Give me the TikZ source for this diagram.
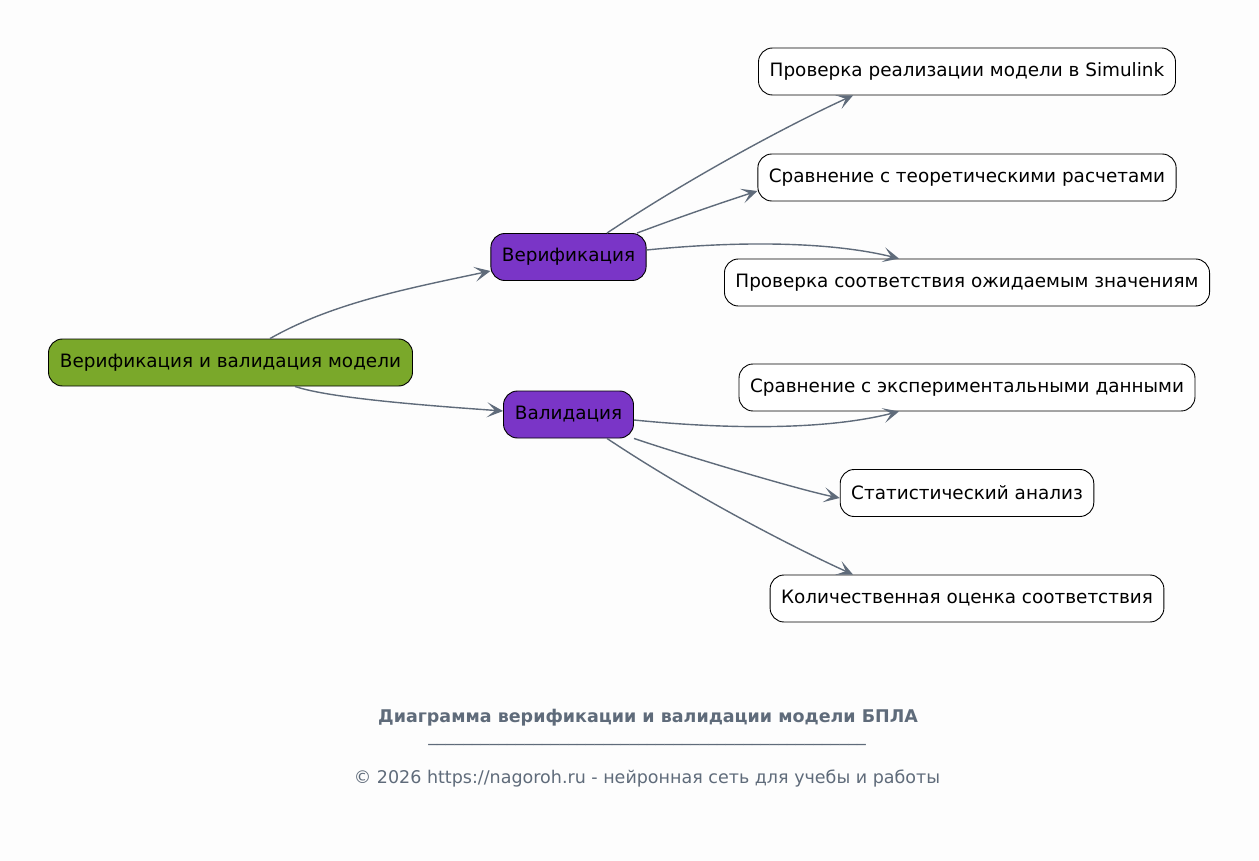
\documentclass[tikz,border=0pt]{standalone}
\usepackage{fontspec}
\setmainfont{DejaVu Sans}
\usetikzlibrary{arrows.meta,calc}
\definecolor{bg}{HTML}{FDFDFD}
\definecolor{edgec}{HTML}{5F6B7A}
\definecolor{rootg}{HTML}{7AA82A}
\definecolor{purp}{HTML}{7A35C7}
\begin{document}
\begin{tikzpicture}[x=1pt,y=-1pt,
  box/.style={draw=black, line width=0.9pt, rounded corners=14pt, minimum height=47pt, inner xsep=11pt, font=\fontsize{18.4}{22}\selectfont, text=black},
  leaf/.style={box, fill=white},
  mid/.style={box, fill=purp},
  conn/.style={draw=edgec, line width=1.4pt, -{Stealth[length=16pt,width=15pt,inset=8pt]}},
  foot/.style={font=\fontsize{17.5}{21}\selectfont, text=edgec, anchor=base}]
\fill[bg] (0,0) rectangle (1259,861);
\useasboundingbox (0,0) rectangle (1259,861);

\node[box, fill=rootg, minimum width=364pt] (root) at (230.5,362.5) {Верификация и валидация модели};
\node[mid, minimum width=154pt] (ver) at (568.5,257) {Верификация};
\node[mid, minimum width=130pt] (val) at (568.5,414.5) {Валидация};
\node[leaf, minimum width=417pt] (sim) at (967,71.5) {Проверка реализации модели в Simulink};
\node[leaf, minimum width=417pt] (th) at (967,177.5) {Сравнение с теоретическими расчетами};
\node[leaf, minimum width=485pt] (exp) at (967,282.5) {Проверка соответствия ожидаемым значениям};
\node[leaf, minimum width=455pt] (expt) at (967,387.5) {Сравнение с экспериментальными данными};
\node[leaf, minimum width=253pt] (stat) at (967,493) {Статистический анализ};
\node[leaf, minimum width=392pt] (quant) at (967,598.5) {Количественная оценка соответствия};

\draw[conn] ($(root.north)+(39.5,0)$) .. controls +(60,-34) and +(-91,19) .. ($(ver.west)+(0,14)$);
\draw[conn] ($(root.south)+(64.5,0)$) .. controls +(35,12) and +(-70,-5) .. ($(val.west)+(0,-3.5)$);

\draw[conn] ($(ver.north)+(38.5,0)$) .. controls +(90,-60) and +(-55,25) .. ($(sim.south)+(-114,0)$);
\draw[conn] ($(ver.north)+(68.5,0)$) .. controls +(40,-15) and +(-40,13) .. ($(th.west)+(0,13.5)$);
\draw[conn] ($(ver.east)+(0,-7)$) .. controls +(100,-10) and +(-65,-16) .. ($(exp.north)+(-68,0)$);

\draw[conn] ($(val.east)+(0,5.5)$) .. controls +(100,10) and +(-70,18) .. ($(expt.south)+(-68,0)$);
\draw[conn] ($(val.south)+(65.5,0)$) .. controls +(50,17) and +(-40,-8) .. ($(stat.west)+(0,5)$);
\draw[conn] ($(val.south)+(38.5,0)$) .. controls +(90,60) and +(-55,-25) .. ($(quant.north)+(-114,0)$);

\node[foot, font=\bfseries\fontsize{17.5}{21}\selectfont] (title) at (648,722) {Диаграмма верификации и валидации модели БПЛА};
\node[foot] (rule) at (647,741) {\_\_\_\_\_\_\_\_\_\_\_\_\_\_\_\_\_\_\_\_\_\_\_\_\_\_\_\_\_\_\_\_\_\_\_\_\_\_\_\_\_\_\_\_\_\_\_\_\_\_};
\node[foot] (copy) at (647,783) {© 2026 https://nagoroh.ru - нейронная сеть для учебы и работы};
\end{tikzpicture}
\end{document}
